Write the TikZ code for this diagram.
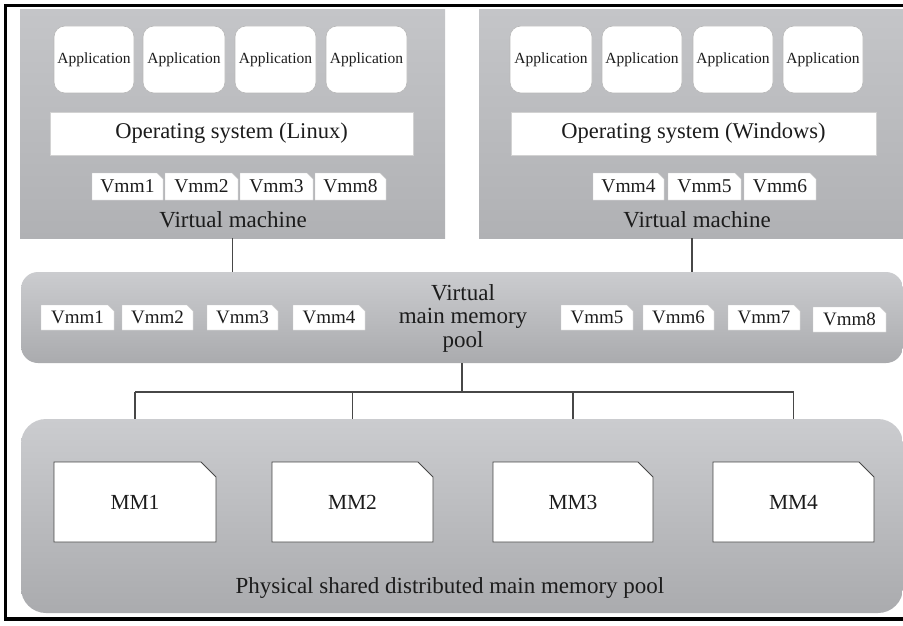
\documentclass[tikz,border=0pt]{standalone}
\usepackage{fontspec}
\setmainfont{Liberation Serif}
\definecolor{ink}{HTML}{1C1C1C}
\definecolor{vmtop}{HTML}{C4C5C8}
\definecolor{vmbot}{HTML}{B0B1B4}
\definecolor{pooltop}{HTML}{CBCCCF}
\definecolor{poolbot}{HTML}{AAABAE}
\definecolor{wire}{HTML}{474747}
% style, name, x1, y1, x2, y2, text
\newcommand\boxn[7]{%
  \node[#1,minimum width={(#5-#3)*1pt},minimum height={(#6-#4)*1pt}]
    (#2) at ({(#3+#5)/2},{(#4+#6)/2}) {#7};}
% fill style, font style, name, x1, y1, x2, y2, cut, text
\newcommand\cutbox[9]{%
  \path[#1] (#4,#7) -- (#4,#5) -- ({#6-#8},#5) -- (#6,{#5+#8}) -- (#6,#7) -- cycle;
  \boxn{#2}{#3}{#4}{#5}{#6}{#7}{#9}}
\begin{document}
\begin{tikzpicture}[x=1pt,y=-1pt,
  every node/.style={inner sep=0pt,outer sep=0pt,text=ink},
  vm/.style={top color=vmtop,bottom color=vmbot},
  pool/.style={top color=pooltop,bottom color=poolbot},
  app/.style={fill=white,draw=gray!55,line width=0.6pt,rounded corners=11pt,font=\fontsize{15.5}{17}\selectfont},
  os/.style={fill=white,draw=gray!35,line width=0.5pt,font=\fontsize{22.5}{25}\selectfont},
  vmmlab/.style={font=\fontsize{19.5}{21}\selectfont},
  pvmmlab/.style={font=\fontsize{19}{21}\selectfont},
  vmmfill/.style={fill=white,draw=gray!40,line width=0.4pt},
  mmfill/.style={fill=white,draw=wire,line width=0.9pt},
  mmlab/.style={font=\fontsize{21.5}{24}\selectfont},
  big/.style={font=\fontsize{23}{23.5}\selectfont},
  wirest/.style={draw=wire,line width=1.1pt},
]
\useasboundingbox (0,0) rectangle (903,626);
\fill[white] (0,0) rectangle (903,626);
\draw[line width=3.5pt] (915,5.5) -- (5.5,5.5) -- (5.5,619) -- (915,619);

% virtual machines
\boxn{vm}{vmL}{20}{10}{445}{238}{}
\boxn{vm}{vmR}{479}{10}{905}{238}{}

\boxn{app}{aL1}{54}{26}{134}{93}{Application}
\boxn{app}{aL2}{143}{26}{225}{93}{Application}
\boxn{app}{aL3}{235}{26}{316}{93}{Application}
\boxn{app}{aL4}{326}{26}{407}{93}{Application}
\boxn{app}{aR1}{510}{26}{592}{93}{Application}
\boxn{app}{aR2}{602}{26}{682}{93}{Application}
\boxn{app}{aR3}{693}{26}{773}{93}{Application}
\boxn{app}{aR4}{783}{26}{863}{93}{Application}

\boxn{os}{osL}{50}{112}{413}{155}{Operating system (Linux)}
\boxn{os}{osR}{511}{112}{876}{155}{Operating system (Windows)}

\cutbox{vmmfill}{vmmlab}{vL1}{92}{173}{163}{200}{6}{Vmm1}
\cutbox{vmmfill}{vmmlab}{vL2}{165}{173}{238}{200}{6}{Vmm2}
\cutbox{vmmfill}{vmmlab}{vL3}{240}{173}{313}{200}{6}{Vmm3}
\cutbox{vmmfill}{vmmlab}{vL8}{315}{173}{386}{200}{6}{Vmm8}
\cutbox{vmmfill}{vmmlab}{vR4}{593}{173}{664}{200}{6}{Vmm4}
\cutbox{vmmfill}{vmmlab}{vR5}{668}{173}{741}{200}{6}{Vmm5}
\cutbox{vmmfill}{vmmlab}{vR6}{744}{173}{816}{200}{6}{Vmm6}

\node[big] (vmLlab) at (233,220) {Virtual machine};
\node[big] (vmRlab) at (697,220) {Virtual machine};

% virtual main memory pool
\boxn{pool,rounded corners=17pt}{vpool}{21}{272}{903}{363}{}
\cutbox{vmmfill}{pvmmlab}{p1}{41}{305}{114}{330}{6}{Vmm1}
\cutbox{vmmfill}{pvmmlab}{p2}{122}{305}{193}{330}{6}{Vmm2}
\cutbox{vmmfill}{pvmmlab}{p3}{207}{305}{278}{330}{6}{Vmm3}
\cutbox{vmmfill}{pvmmlab}{p4}{293}{305}{365}{330}{6}{Vmm4}
\cutbox{vmmfill}{pvmmlab}{p5}{561}{305}{633}{330}{6}{Vmm5}
\cutbox{vmmfill}{pvmmlab}{p6}{643}{305}{714}{330}{6}{Vmm6}
\cutbox{vmmfill}{pvmmlab}{p7}{728}{305}{800}{330}{6}{Vmm7}
\cutbox{vmmfill}{pvmmlab}{p8}{813}{307}{886}{332}{6}{Vmm8}
\node[big,align=center] (vplab) at (463,318) {Virtual\\main memory\\pool};

% physical pool
\boxn{pool,rounded corners=25pt}{ppool}{21}{419}{903}{613}{}
\cutbox{mmfill}{mmlab}{mm1}{54}{462}{216}{542}{15}{MM1}
\cutbox{mmfill}{mmlab}{mm2}{272}{462}{433}{542}{15}{MM2}
\cutbox{mmfill}{mmlab}{mm3}{493}{462}{653}{542}{15}{MM3}
\cutbox{mmfill}{mmlab}{mm4}{713}{462}{874}{542}{15}{MM4}
\node[big] (pplab) at (450,588) {Physical shared distributed main memory pool};

% connectors
\draw[wirest] (vmL.south) -- (vmL.south |- vpool.north);
\draw[wirest] (vmR.south) -- (vmR.south |- vpool.north);
\coordinate (bus) at (462,392);
\draw[wirest] (vpool.south) -- (bus);
\draw[wirest] (mm1.north |- bus) -- (mm4.north |- bus);
\foreach \m in {mm1,mm2,mm3,mm4}
  \draw[wirest] (\m.north |- bus) -- (\m.north |- ppool.north);
\end{tikzpicture}
\end{document}
